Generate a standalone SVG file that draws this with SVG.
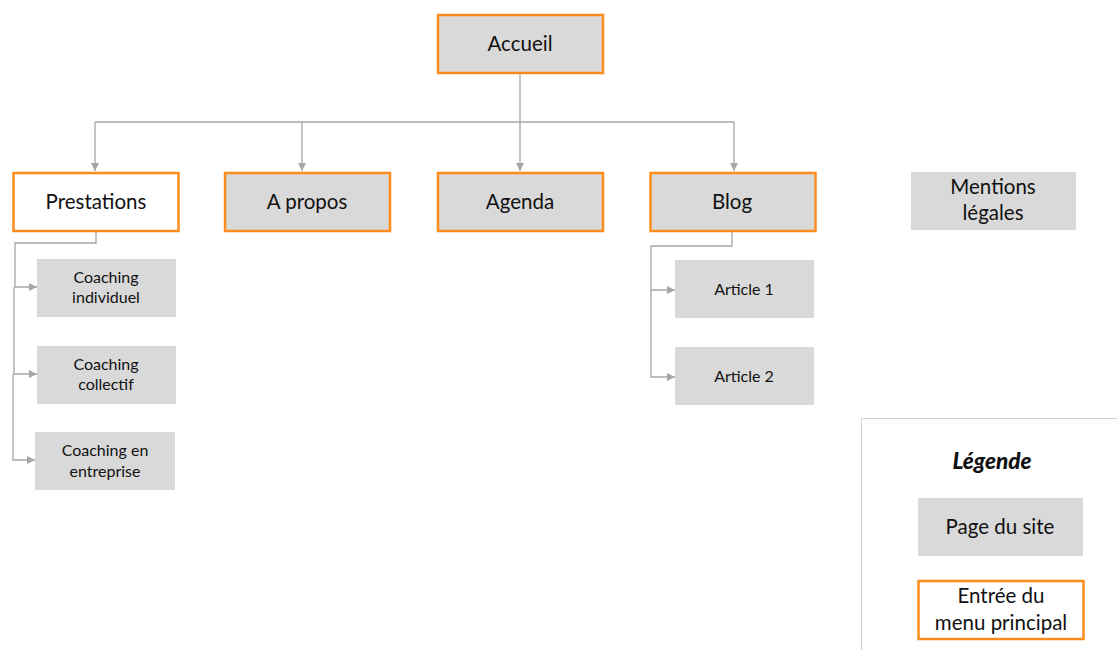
<svg xmlns="http://www.w3.org/2000/svg" width="1117" height="650" viewBox="0 0 1117 650">
<style>
.page{fill:#d9d9d9;}
.menu{stroke:#fd8d1c;stroke-width:2.5;}
.t{font-family:Lato,"Open Sans","Liberation Sans",sans-serif;fill:#111;text-anchor:middle;}
.big{font-size:20.5px;}
.small{font-size:16px;}
.conn{fill:none;stroke:#a6a6a6;stroke-width:1.3;}
</style>
<defs>
<marker id="arr" viewBox="0 0 10 10" refX="10" refY="5" markerWidth="8" markerHeight="8" markerUnits="userSpaceOnUse" orient="auto">
<path d="M0,0 L10,5 L0,10 z" fill="#a6a6a6"/>
</marker>
</defs>
<rect width="1117" height="650" fill="#fff"/>
<g id="connectors">
<path class="conn" d="M520,73 V122"/>
<path class="conn" d="M95,122 H734"/>
<path class="conn" d="M95,122 V171" marker-end="url(#arr)"/>
<path class="conn" d="M302,122 V171" marker-end="url(#arr)"/>
<path class="conn" d="M520,122 V171" marker-end="url(#arr)"/>
<path class="conn" d="M734,122 V171" marker-end="url(#arr)"/>
<path class="conn" d="M96,231 V243 H15 V287 H37" marker-end="url(#arr)"/>
<path class="conn" d="M14,287 V374 H37" marker-end="url(#arr)"/>
<path class="conn" d="M13,374 V460 H35" marker-end="url(#arr)"/>
<path class="conn" d="M732,231 V246 H651 V290 H675" marker-end="url(#arr)"/>
<path class="conn" d="M651,290 V377 H675" marker-end="url(#arr)"/>
</g>
<g id="accueil"><rect class="page menu" x="438" y="15" width="165" height="58"/><text class="t big" x="520" y="51">Accueil</text></g>
<g id="prestations"><rect class="menu" fill="#fff" x="13.5" y="173" width="165" height="58"/><text class="t big" x="96" y="209">Prestations</text></g>
<g id="apropos"><rect class="page menu" x="225" y="173" width="165" height="58"/><text class="t big" x="307" y="209">A propos</text></g>
<g id="agenda"><rect class="page menu" x="438" y="173" width="165" height="58"/><text class="t big" x="520" y="209">Agenda</text></g>
<g id="blog"><rect class="page menu" x="650.5" y="173" width="165" height="58"/><text class="t big" x="732" y="209">Blog</text></g>
<g id="mentions"><rect class="page" x="911" y="172" width="165" height="58"/><text class="t big" x="993" y="194">Mentions</text><text class="t big" x="993" y="220">légales</text></g>
<g id="coaching-individuel"><rect class="page" x="37" y="259" width="139" height="58"/><text class="t small" x="106" y="283">Coaching</text><text class="t small" x="106" y="303">individuel</text></g>
<g id="coaching-collectif"><rect class="page" x="37" y="346" width="139" height="58"/><text class="t small" x="106" y="370">Coaching</text><text class="t small" x="106" y="390">collectif</text></g>
<g id="coaching-entreprise"><rect class="page" x="35" y="432" width="140" height="58"/><text class="t small" x="105" y="456">Coaching en</text><text class="t small" x="105" y="477">entreprise</text></g>
<g id="article1"><rect class="page" x="675" y="260" width="139" height="58"/><text class="t small" x="744" y="295">Article 1</text></g>
<g id="article2"><rect class="page" x="675" y="347" width="139" height="58"/><text class="t small" x="744" y="382">Article 2</text></g>
<g id="legende">
<path d="M861.5,650 V418.5 H1117" fill="none" stroke="#d0d0d0" stroke-width="1"/>
<text class="t" x="992" y="469" font-size="22.5px" font-weight="900" font-style="italic">Légende</text>
<rect class="page" x="918" y="498" width="165" height="58"/><text class="t big" x="1000" y="534">Page du site</text>
<rect class="menu" fill="#fff" x="918.5" y="581" width="165" height="58"/><text class="t big" x="1001" y="603">Entrée du</text><text class="t big" x="1001" y="630">menu principal</text>
</g>
</svg>
